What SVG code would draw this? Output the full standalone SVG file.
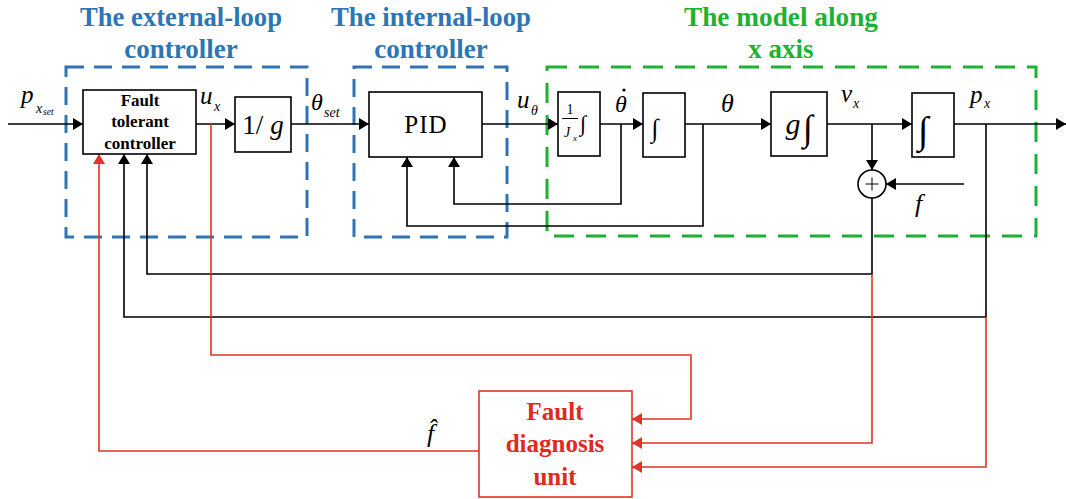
<svg xmlns="http://www.w3.org/2000/svg" width="1066" height="499" viewBox="0 0 1066 499">
<style>
.blk{fill:none;stroke:#000;stroke-width:1.6}
.box{fill:#fff;stroke:#000;stroke-width:1.6}
.red{fill:none;stroke:#E03426;stroke-width:1.6}
.bdash{fill:none;stroke:#2E75B6;stroke-width:3;stroke-dasharray:18 10}
.gdash{fill:none;stroke:#1DB232;stroke-width:3;stroke-dasharray:20 12}
text{font-family:'Liberation Serif','Times New Roman',Tinos,'DejaVu Serif',serif}
.tb{font-weight:bold;font-size:27px;fill:#2E75B6;text-anchor:middle}
.tg{font-weight:bold;font-size:27px;fill:#1DB232;text-anchor:middle}
.m{font-style:italic;fill:#000}
.r{fill:#000}
.bl{font-weight:bold;font-size:17px;fill:#000;text-anchor:middle}
.fdu{font-weight:bold;font-size:25px;fill:#E0291F;text-anchor:middle}
</style>
<defs>
<marker id="ah" markerWidth="10" markerHeight="12" refX="10" refY="6" orient="auto" markerUnits="userSpaceOnUse"><path d="M0,0 L10,6 L0,12 z" fill="#000"/></marker>
<marker id="ahr" markerWidth="10" markerHeight="12" refX="10" refY="6" orient="auto" markerUnits="userSpaceOnUse"><path d="M0,0 L10,6 L0,12 z" fill="#E03426"/></marker>
</defs>
<rect width="1066" height="499" fill="#fff"/>

<g id="titles">
<text class="tb" x="181" y="26" textLength="202" lengthAdjust="spacingAndGlyphs">The external-loop</text>
<text class="tb" x="181" y="58">controller</text>
<text class="tb" x="431" y="26" textLength="200" lengthAdjust="spacingAndGlyphs">The internal-loop</text>
<text class="tb" x="431" y="58">controller</text>
<text class="tg" x="781" y="26" textLength="194" lengthAdjust="spacingAndGlyphs">The model along</text>
<text class="tg" x="781" y="58">x axis</text>
</g>

<g id="groups">
<rect class="bdash" x="66" y="67" width="241" height="170"/>
<rect class="bdash" x="354" y="67" width="153" height="170"/>
<rect class="gdash" x="547" y="67" width="489" height="169"/>
</g>

<g id="connectors">
<path class="blk" d="M8,124 H83" marker-end="url(#ah)"/>
<path class="blk" d="M196,124 H235" marker-end="url(#ah)"/>
<path class="blk" d="M291,124 H369" marker-end="url(#ah)"/>
<path class="blk" d="M482,124 H558" marker-end="url(#ah)"/>
<path class="blk" d="M600,124 H643" marker-end="url(#ah)"/>
<path class="blk" d="M685,124 H771" marker-end="url(#ah)"/>
<path class="blk" d="M827,124 H912" marker-end="url(#ah)"/>
<path class="blk" d="M954,124 H1066" marker-end="url(#ah)"/>
<path class="blk" d="M621,124 V204 H454 V157" marker-end="url(#ah)"/>
<path class="blk" d="M703,124 V226 H407 V157" marker-end="url(#ah)"/>
<path class="blk" d="M872,124 V170" marker-end="url(#ah)"/>
<path class="blk" d="M964,184 H886" marker-end="url(#ah)"/>
<path class="blk" d="M872,198 V274 H147 V154" marker-end="url(#ah)"/>
<path class="blk" d="M986,124 V317 H124 V154" marker-end="url(#ah)"/>
<path class="red" d="M211,124 V355 H691 V419 H632" marker-end="url(#ahr)"/>
<path class="red" d="M872,274 V443 H632" marker-end="url(#ahr)"/>
<path class="red" d="M986,317 V467 H632" marker-end="url(#ahr)"/>
<path class="red" d="M479,451 H99 V154" marker-end="url(#ahr)"/>
</g>

<g id="ftc">
<rect class="box" x="83" y="90" width="113" height="64"/>
<text class="bl" x="140" y="105.5">Fault</text>
<text class="bl" x="140" y="127">tolerant</text>
<text class="bl" x="140" y="149">controller</text>
</g>

<g id="inv-g">
<rect class="box" x="235" y="97" width="56" height="55"/>
<text class="r" x="263" y="134" font-size="27" text-anchor="middle">1/ <tspan font-style="italic">g</tspan></text>
</g>

<g id="pid">
<rect class="box" x="369" y="92" width="113" height="65"/>
<text class="r" x="426" y="133" font-size="25" text-anchor="middle" letter-spacing="1">PID</text>
</g>

<g id="int-j">
<rect class="box" x="558" y="92" width="42" height="64"/>
<text class="r" x="570" y="114" font-size="14" text-anchor="middle">1</text>
<line x1="562" y1="118.5" x2="578" y2="118.5" stroke="#000" stroke-width="1"/>
<text class="m" x="567" y="137" font-size="14" text-anchor="middle">J</text>
<text class="m" x="575" y="141" font-size="9" text-anchor="middle">x</text>
<text class="r" x="583" y="131" font-size="22" text-anchor="middle">∫</text>
</g>

<g id="int1">
<rect class="box" x="643" y="93" width="42" height="64"/>
<text class="r" x="655" y="137" font-size="26" text-anchor="middle">∫</text>
</g>

<g id="g-int">
<rect class="box" x="771" y="92" width="56" height="64"/>
<text class="m" x="793" y="134" font-size="30" text-anchor="middle">g</text>
<text class="r" x="808" y="140" font-size="36" text-anchor="middle">∫</text>
</g>

<g id="int2">
<rect class="box" x="912" y="93" width="42" height="64"/>
<text class="r" x="923" y="143" font-size="38" text-anchor="middle" font-weight="bold">∫</text>
</g>

<g id="sum">
<circle cx="872" cy="184" r="14" fill="#fff" stroke="#000" stroke-width="1.6"/>
<path d="M865.5,184 H878.5 M872,177.5 V190.5" stroke="#000" stroke-width="1"/>
</g>

<g id="fdu">
<rect x="479" y="391" width="153" height="106" fill="#fff" stroke="#E03426" stroke-width="1.6"/>
<text class="fdu" x="555" y="420">Fault</text>
<text class="fdu" x="555" y="452">diagnosis</text>
<text class="fdu" x="555" y="485">unit</text>
</g>

<g id="labels">
<text class="m" x="21" y="103" font-size="25">p</text>
<text class="m" x="36" y="113" font-size="14">x</text>
<text class="m" x="43" y="115" font-size="9.5">set</text>
<text class="m" x="200" y="104" font-size="25">u</text>
<text class="m" x="214" y="111" font-size="14">x</text>
<text class="m" x="311" y="110" font-size="24">θ</text>
<text class="m" x="324" y="117" font-size="14">set</text>
<text class="m" x="517" y="108" font-size="25">u</text>
<text class="m" x="531" y="115" font-size="14">θ</text>
<text class="m" x="615" y="112" font-size="24">θ</text>
<circle cx="624" cy="90" r="1.6" fill="#000"/>
<text class="m" x="721" y="112" font-size="26">θ</text>
<text class="m" x="841" y="102" font-size="25">v</text>
<text class="m" x="853" y="108" font-size="14">x</text>
<text class="m" x="970" y="103" font-size="25">p</text>
<text class="m" x="984" y="108" font-size="14">x</text>
<text class="m" x="915" y="212" font-size="26">f</text>
<text class="m" x="427" y="442" font-size="26">f&#x302;</text>
</g>
</svg>
